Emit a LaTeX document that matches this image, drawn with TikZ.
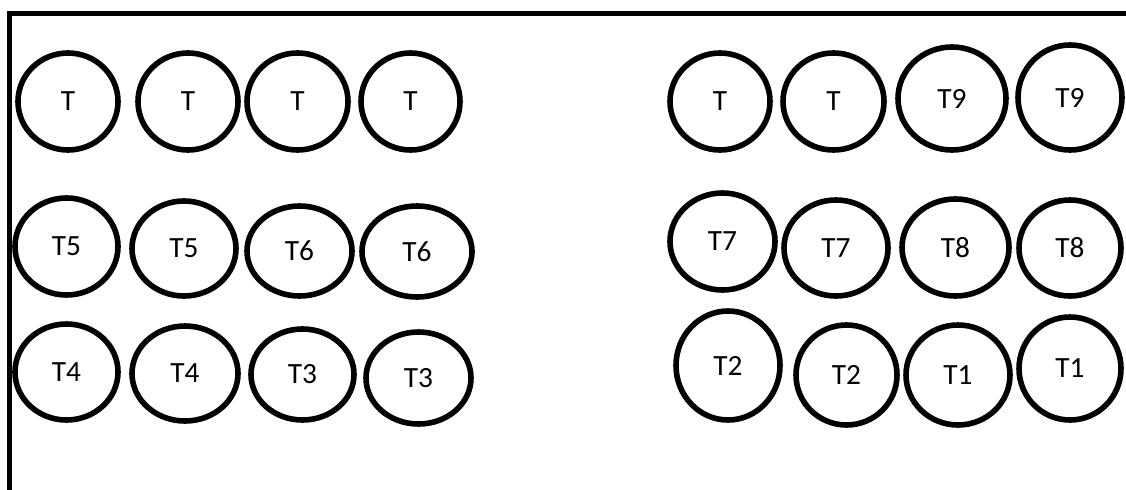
\documentclass[tikz,border=0pt]{standalone}
\usepackage{fontspec}
\setmainfont{Carlito}
\usetikzlibrary{shapes.geometric}

\begin{document}
\begin{tikzpicture}[x=0.75pt, y=-0.75pt,
  seat/.style 2 args={draw, ellipse, line width=4.2pt, inner sep=0pt,
    minimum width=#1*0.75pt, minimum height=#2*0.75pt,
    font=\fontsize{22}{26}\selectfont},
  wall/.style={line width=4pt}]
\useasboundingbox (0,0) rectangle (1126,489);
\begin{scope}
\clip (0,0) rectangle (1126,489);
\draw[wall] (9.5,495) |- (1135,13.5);
\end{scope}
% left block
\node[seat={100}{97}] (ta) at (68,101.5) {T};
\node[seat={100}{97}] (tb) at (188,101.5) {T};
\node[seat={101}{97}] (tc) at (297.5,101.5) {T};
\node[seat={99}{97}] (td) at (410.5,101.5) {T};
\node[seat={103}{97}] (t5a) at (66.5,246.5) {T5};
\node[seat={104}{95}] (t5b) at (184,248.5) {T5};
\node[seat={105}{90}] (t6a) at (299.5,251) {T6};
\node[seat={110}{91}] (t6b) at (417,251.5) {T6};
\node[seat={103}{96}] (t4a) at (66.5,372) {T4};
\node[seat={106}{95}] (t4b) at (185,373.5) {T4};
\node[seat={103}{91}] (t3a) at (302.5,374.5) {T3};
\node[seat={105}{92}] (t3b) at (418.5,378) {T3};
% right block
\node[seat={100}{97}] (te) at (720,101.5) {T};
\node[seat={101}{97}] (tf) at (833.5,101.5) {T};
\node[seat={108}{103}] (t9a) at (952,98.5) {T9};
\node[seat={104}{105}] (t9b) at (1070,97.5) {T9};
\node[seat={105}{97}] (t7a) at (722.5,241.5) {T7};
\node[seat={104}{96}] (t7b) at (836,248) {T7};
\node[seat={107}{97}] (t8a) at (955.5,247.5) {T8};
\node[seat={102}{96}] (t8b) at (1070,248) {T8};
\node[seat={104}{109}] (t2a) at (728,365.5) {T2};
\node[seat={101}{100}] (t2b) at (846.5,375) {T2};
\node[seat={104}{100}] (t1a) at (958,375) {T1};
\node[seat={102}{103}] (t1b) at (1070,368.5) {T1};
\end{tikzpicture}
\end{document}
